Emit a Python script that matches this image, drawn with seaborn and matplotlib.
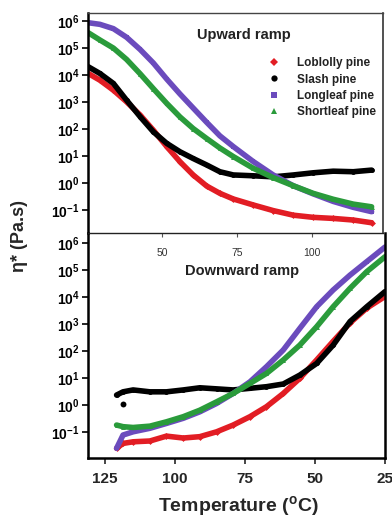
import numpy as np
import pandas as pd
import seaborn as sns
import matplotlib
matplotlib.use("Agg")
import matplotlib.pyplot as plt
from matplotlib.lines import Line2D

sns.set_style("white")
plt.rcParams['font.family'] = ['Liberation Sans', 'DejaVu Sans']
plt.rcParams['mathtext.fontset'] = 'custom'
plt.rcParams['mathtext.rm'] = 'Liberation Sans:bold'
plt.rcParams['mathtext.bf'] = 'Liberation Sans:bold'
plt.rcParams['mathtext.it'] = 'Liberation Sans:bold'

series_names = ["Loblolly pine", "Slash pine", "Longleaf pine", "Shortleaf pine"]

# ---- Upward ramp (top panel): temperature (C), log10 eta* ----
up_T = [25.4, 29.3, 33.8, 38.2, 42.7, 47.1, 51.6, 56.0, 60.4, 64.9, 69.3, 73.8,
        80.4, 87.1, 93.8, 100.4, 107.1, 113.8, 119.9]
up_loblolly = [4.06, 3.81, 3.44, 3.01, 2.52, 1.96, 1.35, 0.79, 0.30, -0.11, -0.38, -0.59,
               -0.81, -1.02, -1.19, -1.27, -1.31, -1.37, -1.47]
up_slash = [4.31, 4.06, 3.69, 3.07, 2.46, 1.90, 1.47, 1.16, 0.91, 0.67, 0.42, 0.30,
            0.27, 0.23, 0.30, 0.38, 0.44, 0.42, 0.48]
up_longleaf = [5.94, 5.88, 5.72, 5.40, 4.95, 4.45, 3.85, 3.30, 2.78, 2.25, 1.75, 1.35,
               0.80, 0.30, -0.10, -0.40, -0.68, -0.90, -1.06]
up_shortleaf = [5.57, 5.30, 5.00, 4.58, 4.05, 3.50, 2.95, 2.45, 2.02, 1.65, 1.30, 0.98,
                0.55, 0.20, -0.10, -0.38, -0.60, -0.78, -0.88]

# ---- Downward ramp (bottom panel) ----
down_T = [120.8, 118.5, 114.9, 108.9, 103.0, 97.0, 91.1, 85.1, 79.2, 73.2, 67.3, 61.3,
          55.4, 49.4, 43.5, 37.5, 31.5, 25.0]
down_loblolly = [-1.60, -1.42, -1.36, -1.33, -1.15, -1.22, -1.17, -0.99, -0.74, -0.43, -0.06,
                 0.43, 0.99, 1.67, 2.36, 3.04, 3.59, 4.02]
down_slash = [0.37, 0.49, 0.56, 0.49, 0.49, 0.56, 0.64, 0.60, 0.56, 0.62, 0.68, 0.78,
              1.11, 1.54, 2.22, 3.09, 3.64, 4.20]
down_longleaf = [-1.60, -1.11, -0.99, -0.86, -0.68, -0.49, -0.25, 0.06, 0.43, 0.86, 1.42,
                 2.04, 2.84, 3.64, 4.26, 4.81, 5.31, 5.85]
down_shortleaf = [-0.74, -0.80, -0.83, -0.78, -0.62, -0.43, -0.19, 0.12, 0.43, 0.80, 1.17,
                  1.67, 2.22, 2.90, 3.64, 4.32, 4.94, 5.49]
slash_outlier_T = [118.5]
slash_outlier_log = [0.04]

colors = ["#e21d24", "#000000", "#6b4bbd", "#2a9b3b"]
markers = ["D", "o", "s", "^"]

ytick_exponents = [-1, 0, 1, 2, 3, 4, 5, 6]
ytick_labels = [r"$\mathbf{10^{%d}}$" % e for e in ytick_exponents]
top_xticks = [50, 75, 100]
bottom_xticks = [125, 100, 75, 50, 25]

W, H = 392, 518
fig = plt.figure(figsize=(W / 100, H / 100), dpi=100)
ax_top = fig.add_axes([88 / W, 1 - 233 / H, 295 / W, 220 / H])
ax_bot = fig.add_axes([88 / W, 1 - 458 / H, 297 / W, 225 / H])

up_series = [up_loblolly, up_slash, up_longleaf, up_shortleaf]
down_series = [down_loblolly, down_slash, down_longleaf, down_shortleaf]

def draw(ax, T, series_list):
    for name, vals, c, m in zip(series_names, series_list, colors, markers):
        df = pd.DataFrame({"T": T, "eta": np.power(10.0, vals)})
        sns.lineplot(data=df, x="T", y="eta", ax=ax, color=c, lw=4.0,
                     marker=m, markersize=3.5, markeredgewidth=0, sort=False,
                     estimator=None, legend=False)

draw(ax_top, up_T, up_series)
draw(ax_bot, down_T, down_series)
sns.scatterplot(x=slash_outlier_T, y=np.power(10.0, slash_outlier_log), ax=ax_bot,
                color="black", s=18, linewidth=0, legend=False)

for ax in (ax_top, ax_bot):
    ax.set_yscale("log")
    ax.set_yticks([10.0 ** e for e in ytick_exponents])
    ax.set_yticklabels(ytick_labels)
    ax.minorticks_off()
    ax.set_xlabel("")
    ax.set_ylabel("")
    ax.tick_params(axis="y", direction="out", length=4, width=1.2, pad=2,
                   labelsize=10, left=True, colors="black")

ax_top.set_xlim(25.33, 123.7)
ax_top.set_ylim(10 ** -1.85, 10 ** 6.3)
ax_bot.set_xlim(131, 25)
ax_bot.set_ylim(10 ** -1.96, 10 ** 6.37)

ax_top.set_xticks(top_xticks)
ax_top.set_xticklabels([str(t) for t in top_xticks])
ax_top.tick_params(axis="x", direction="out", length=3, width=0.8, pad=8,
                   labelsize=7.5, bottom=True, labelcolor="#333333", color="#555555")
ax_bot.set_xticks(bottom_xticks)
ax_bot.set_xticklabels([str(t) for t in bottom_xticks], fontweight="bold")
ax_bot.tick_params(axis="x", direction="out", length=4, width=1.2, pad=6,
                   labelsize=11, bottom=True)

for ax in (ax_top, ax_bot):
    ax.spines["left"].set_linewidth(1.8)
    ax.spines["left"].set_color("black")
ax_top.spines["top"].set_linewidth(1.0)
ax_top.spines["top"].set_color("#444444")
ax_top.spines["right"].set_linewidth(1.2)
ax_top.spines["right"].set_color("#333333")
ax_top.spines["bottom"].set_linewidth(1.0)
ax_top.spines["bottom"].set_color("#222222")
ax_bot.spines["top"].set_visible(False)
ax_bot.spines["right"].set_linewidth(1.8)
ax_bot.spines["right"].set_color("black")
ax_bot.spines["bottom"].set_linewidth(1.8)
ax_bot.spines["bottom"].set_color("black")
ax_top.set_zorder(2)
ax_top.patch.set_alpha(0)

ax_top.text(0.53, 0.90, "Upward ramp", transform=ax_top.transAxes, ha="center",
            va="center", fontsize=10.5, fontweight="bold", color="#222222")
ax_bot.text(0.52, 0.83, "Downward ramp", transform=ax_bot.transAxes, ha="center",
            va="center", fontsize=10.5, fontweight="bold", color="#222222")

handles = [Line2D([], [], linestyle="none", marker=m, color=c, markersize=4.5,
                  markeredgewidth=0) for c, m in zip(colors, markers)]
leg = ax_top.legend(handles, series_names, loc="upper right",
                    bbox_to_anchor=(1.0, 0.83), frameon=False, fontsize=8.5,
                    handletextpad=0.9, labelspacing=0.35, borderaxespad=0.2)
for t in leg.get_texts():
    t.set_fontweight("bold")
    t.set_color("#222222")

fig.text(20 / W, 1 - 236 / H, r"η* (Pa.s)", rotation=90, ha="center", va="center",
         fontsize=13, fontweight="bold")
fig.text(238 / W, 1 - 506 / H, r"Temperature ($^{\rm o}$C)", ha="center", va="center",
         fontsize=14, fontweight="bold")

fig.savefig("out.png", dpi=100, facecolor="white")
